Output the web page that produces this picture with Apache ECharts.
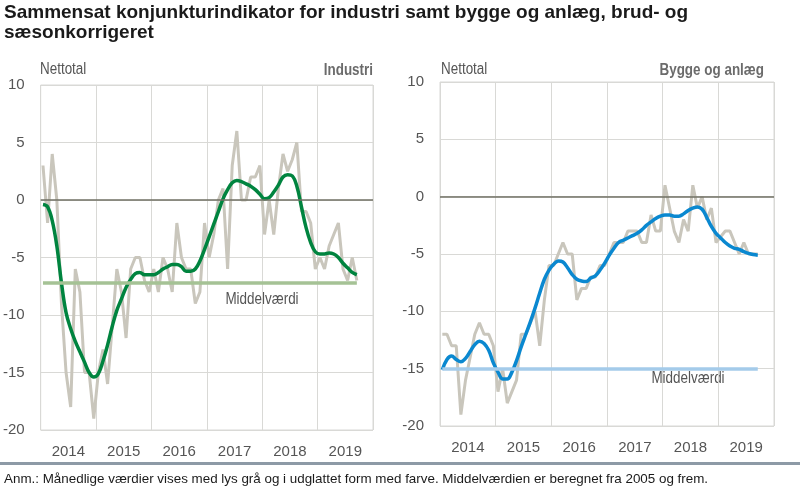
<!DOCTYPE html>
<html>
<head>
<meta charset="utf-8">
<script src="https://cdn.jsdelivr.net/npm/echarts@6/dist/echarts.min.js"></script>
<style>
html,body{margin:0;padding:0;background:#fff;}
#c{width:800px;height:488px;}
</style>
</head>
<body>
<div id="c"></div>
<script>
const years = ['2014','2015','2016','2017','2018','2019'];
const months = [];
years.forEach(y => { for (let m = 1; m <= 12; m++) months.push(y + 'M' + (m < 10 ? '0' + m : m)); });

const yTicks = { min: -20, max: 10, interval: 5 };

const industriMaaned = [3,-2,4,0,-9,-15,-18,-6,-8,-15,
  -15,-19,-15,-13,-16,-11,-6,-8,-12,-6,
  -5,-5,-7,-8,-6,-8,-5,-6,-8,-2,
  -5,-6,-6,-9,-8,-2,-5,-3,0,1,
  -6,3,6,0,0,2,2,3,-3,0,
  -3,1,4,2.5,3.5,5,-1,-1,-2,-6,
  -5,-6,-4,-3,-2,-6,-7,-5,-7];
const industriUdglattet = [-0.4,-0.6,-1.8,-4.0,-7.2,-9.8,-11.2,-12.3,-13.2,-14.1,
  -15.0,-15.4,-15.1,-14.0,-12.6,-11.0,-9.6,-8.6,-7.6,-6.9,
  -6.4,-6.3,-6.5,-6.5,-6.5,-6.3,-6.0,-5.8,-5.6,-5.6,
  -5.8,-6.2,-6.2,-6.0,-5.3,-4.3,-3.2,-2.1,-1.0,0.1,
  0.9,1.5,1.7,1.6,1.4,1.2,0.9,0.5,0.1,0.2,
  0.7,1.3,2.0,2.2,2.1,1.2,-0.6,-2.4,-3.7,-4.5,
  -4.7,-4.7,-4.6,-4.7,-5.0,-5.5,-5.9,-6.3,-6.5];
const industriMiddel = -7.2;

const byggeMaaned = [-12,-12,-13,-13,-19,-16,-14,-12,-11,-12,
  -12,-13,-17,-15,-18,-17,-16,-12,-12,-11,
  -10,-13,-9,-6,-6,-5,-4,-5,-5,-9,
  -8,-8,-7,-7,-6,-6,-5,-4,-4,-4,
  -3,-3,-3,-4,-4,-1.6,-3,-3,1,-1,
  -3,-4,-2,-3,1,-1,0,-2,-1,-4,
  -3.5,-3,-3,-4,-5,-4,-5,-5,-5];
const byggeUdglattet = [-15.1,-14.2,-13.9,-14.2,-14.4,-14.1,-13.5,-12.9,-12.6,-12.8,
  -13.4,-14.5,-15.3,-15.9,-15.9,-15.3,-14.3,-13.1,-12.0,-10.9,
  -9.7,-8.4,-7.2,-6.4,-5.9,-5.6,-5.7,-6.2,-6.8,-7.2,
  -7.35,-7.4,-7.1,-6.9,-6.4,-5.8,-5.1,-4.5,-4.0,-3.8,
  -3.6,-3.4,-3.2,-2.9,-2.5,-2.2,-1.9,-1.7,-1.6,-1.6,
  -1.7,-1.7,-1.5,-1.2,-1.0,-0.9,-1.1,-1.8,-2.6,-3.2,
  -3.6,-4.0,-4.3,-4.5,-4.6,-4.8,-4.95,-5.05,-5.1];
const byggeMiddel = -15;

const SANS = "'Liberation Sans',Arial,sans-serif";
const GRID = '#d9d9d6';
const TXT = '#555555';
const NARROWX = 0.84;

const chart = echarts.init(document.getElementById('c'), null, { renderer: 'canvas' });

function monthAxis(gi) {
  return { type: 'category', gridIndex: gi, data: months, boundaryGap: true, show: false };
}
function yearAxis(gi) {
  return {
    type: 'category', gridIndex: gi, data: years, boundaryGap: true, position: 'bottom',
    axisLine: { show: false }, axisTick: { show: false },
    splitLine: { show: true, interval: 0, lineStyle: { color: GRID, width: 1 } },
    axisLabel: { fontFamily: SANS, fontSize: 15, color: TXT, margin: 14 }
  };
}
function valAxis(gi) {
  return {
    type: 'value', gridIndex: gi, min: yTicks.min, max: yTicks.max, interval: yTicks.interval,
    axisLine: { show: false }, axisTick: { show: false },
    splitLine: { lineStyle: { color: GRID, width: 1 } },
    axisLabel: { fontFamily: SANS, fontSize: 15, color: TXT, margin: 16 }
  };
}
function panelSeries(xi, yi, monthly, smooth, mean, color, meanColor) {
  const n = monthly.length;
  return [
    { type: 'line', xAxisIndex: xi, yAxisIndex: yi, data: [], z: 1, silent: true,
      markLine: { silent: true, symbol: 'none', label: { show: false },
        lineStyle: { color: '#6f6f63', width: 1.5, type: 'solid' },
        data: [{ yAxis: 0 }] } },
    { type: 'line', xAxisIndex: xi, yAxisIndex: yi, data: monthly, z: 2, symbol: 'none',
      lineStyle: { color: '#c9c6bc', width: 3 }, itemStyle: { color: '#c9c6bc' } },
    { type: 'line', xAxisIndex: xi, yAxisIndex: yi, data: [], z: 3, silent: true,
      markLine: { silent: true, symbol: 'none', label: { show: false },
        lineStyle: { color: meanColor, width: 3.5, type: 'solid' },
        data: [[{ xAxis: months[0], yAxis: mean }, { xAxis: months[n - 1], yAxis: mean }]] } },
    { type: 'line', xAxisIndex: xi, yAxisIndex: yi, data: smooth, z: 4, symbol: 'none', smooth: 0.4,
      lineStyle: { color: color, width: 3.5 }, itemStyle: { color: color } }
  ];
}
function label(x, y, text, align, bold) {
  return { type: 'text', x: x, y: y, scaleX: NARROWX,
    style: { text: text, fontFamily: SANS, fontSize: 16, fontWeight: bold ? 'bold' : 'normal',
      fill: bold ? '#6b6b6b' : TXT, align: align, verticalAlign: 'middle' } };
}

const option = {
  animation: false,
  backgroundColor: '#ffffff',
  title: {
    text: 'Sammensat konjunkturindikator for industri samt bygge og anlæg, brud- og\nsæsonkorrigeret',
    left: 4, top: 3, padding: 0,
    textStyle: { fontFamily: SANS, fontSize: 19, fontWeight: 'bold', color: '#1a1a1a', lineHeight: 20 }
  },
  grid: [
    { left: 38, top: 85, width: 335, height: 345, show: true, borderColor: GRID, borderWidth: 1 },
    { left: 440, top: 82, width: 334, height: 344, show: true, borderColor: GRID, borderWidth: 1 }
  ],
  xAxis: [monthAxis(0), yearAxis(0), monthAxis(1), yearAxis(1)],
  yAxis: [valAxis(0), valAxis(1)],
  series: [].concat(
    panelSeries(0, 0, industriMaaned, industriUdglattet, industriMiddel, '#00843f', '#a5c295'),
    panelSeries(2, 1, byggeMaaned, byggeUdglattet, byggeMiddel, '#0a88d0', '#a4cbea')
  ),
  graphic: [
    label(40, 70, 'Nettotal', 'left', false),
    label(373, 71, 'Industri', 'right', true),
    label(441, 70, 'Nettotal', 'left', false),
    label(764, 71, 'Bygge og anlæg', 'right', true),
    label(262, 300, 'Middelværdi', 'center', false),
    label(688, 379, 'Middelværdi', 'center', false),
    { type: 'rect', left: 0, top: 462, shape: { width: 800, height: 3 }, style: { fill: '#8d9aa6' } },
    { type: 'text', left: 4, top: 473, style: { text: 'Anm.: Månedlige værdier vises med lys grå og i udglattet form med farve. Middelværdien er beregnet fra 2005 og frem.', fontFamily: SANS, fontSize: 13.4, fill: '#1a1a1a' } }
  ]
};
chart.setOption(option);
</script>
</body>
</html>
